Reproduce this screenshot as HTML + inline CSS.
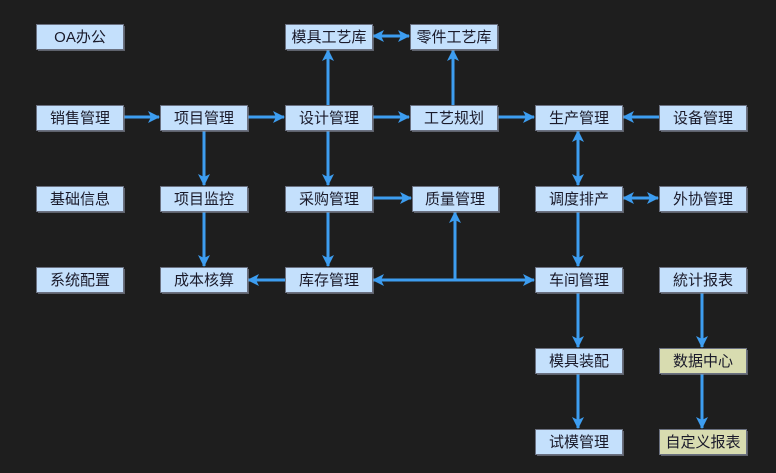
<!DOCTYPE html>
<html><head><meta charset="utf-8"><style>
html,body{margin:0;padding:0;background:#1e1e1e;}
svg{display:block;}
text{font-family:"Liberation Sans","Noto Sans CJK SC",sans-serif;font-size:15px;fill:#1a1a2a;}
</style></head><body>
<svg width="776" height="473" viewBox="0 0 776 473" xmlns="http://www.w3.org/2000/svg">
<defs>
<marker id="a" markerWidth="12" markerHeight="12" refX="11" refY="6" orient="auto" markerUnits="userSpaceOnUse" viewBox="0 0 12 12">
<path d="M0,0 L12,6 L0,12 L3,6 z" fill="#3d9df0"/></marker>
<marker id="s" markerWidth="12" markerHeight="12" refX="1" refY="6" orient="auto" markerUnits="userSpaceOnUse" viewBox="0 0 12 12">
<path d="M12,0 L0,6 L12,12 L9,6 z" fill="#3d9df0"/></marker>
</defs>
<g stroke="#3d9df0" stroke-width="3" fill="none">
<line x1="123" y1="117" x2="159" y2="117" marker-end="url(#a)"/>
<line x1="247" y1="117" x2="284" y2="117" marker-end="url(#a)"/>
<line x1="372" y1="117" x2="409" y2="117" marker-end="url(#a)"/>
<line x1="497" y1="117" x2="534" y2="117" marker-end="url(#a)"/>
<line x1="659" y1="117" x2="623" y2="117" marker-end="url(#a)"/>
<line x1="328" y1="105" x2="328" y2="50" marker-end="url(#a)"/>
<line x1="373" y1="36" x2="409" y2="36" marker-start="url(#s)" marker-end="url(#a)"/>
<line x1="453" y1="105" x2="453" y2="50" marker-end="url(#a)"/>
<line x1="204" y1="130" x2="204" y2="185" marker-end="url(#a)"/>
<line x1="204" y1="211" x2="204" y2="266" marker-end="url(#a)"/>
<line x1="328" y1="130" x2="328" y2="185" marker-end="url(#a)"/>
<line x1="328" y1="211" x2="328" y2="266" marker-end="url(#a)"/>
<line x1="372" y1="198" x2="411" y2="198" marker-end="url(#a)"/>
<line x1="285" y1="280" x2="248" y2="280" marker-end="url(#a)"/>
<line x1="578" y1="131" x2="578" y2="185" marker-start="url(#s)" marker-end="url(#a)"/>
<line x1="623" y1="198" x2="658" y2="198" marker-start="url(#s)" marker-end="url(#a)"/>
<line x1="578" y1="211" x2="578" y2="266" marker-end="url(#a)"/>
<line x1="373" y1="280" x2="534" y2="280" marker-start="url(#s)" marker-end="url(#a)"/>
<line x1="455" y1="280" x2="455" y2="212" marker-end="url(#a)"/>
<line x1="578" y1="292" x2="578" y2="347" marker-end="url(#a)"/>
<line x1="578" y1="373" x2="578" y2="428" marker-end="url(#a)"/>
<line x1="702" y1="292" x2="702" y2="347" marker-end="url(#a)"/>
<line x1="702" y1="373" x2="702" y2="428" marker-end="url(#a)"/>
</g>
<g fill="#8a90a0" opacity="0.6">
<rect x="38" y="26" width="87" height="25"/><rect x="287" y="26" width="87" height="25"/><rect x="412" y="26" width="87" height="25"/>
<rect x="38" y="107" width="87" height="25"/><rect x="162" y="107" width="87" height="25"/><rect x="287" y="107" width="87" height="25"/><rect x="412" y="107" width="87" height="25"/><rect x="537" y="107" width="87" height="25"/><rect x="661" y="107" width="87" height="25"/>
<rect x="38" y="188" width="87" height="25"/><rect x="162" y="188" width="87" height="25"/><rect x="287" y="188" width="87" height="25"/><rect x="414" y="188" width="86" height="25"/><rect x="537" y="188" width="87" height="25"/><rect x="661" y="188" width="87" height="25"/>
<rect x="38" y="269" width="87" height="25"/><rect x="162" y="269" width="87" height="25"/><rect x="287" y="269" width="87" height="25"/><rect x="537" y="269" width="87" height="25"/><rect x="661" y="269" width="87" height="25"/>
<rect x="537" y="350" width="87" height="25"/><rect x="661" y="350" width="87" height="25"/>
<rect x="537" y="431" width="87" height="25"/><rect x="661" y="431" width="87" height="25"/>
</g>
<g stroke="#6a7080" stroke-width="1">
<g fill="#c4e0fc">
<rect x="36.5" y="24.5" width="87" height="25"/>
<rect x="285.5" y="24.5" width="87" height="25"/>
<rect x="410.5" y="24.5" width="87" height="25"/>
<rect x="36.5" y="105.5" width="87" height="25"/>
<rect x="160.5" y="105.5" width="87" height="25"/>
<rect x="285.5" y="105.5" width="87" height="25"/>
<rect x="410.5" y="105.5" width="87" height="25"/>
<rect x="535.5" y="105.5" width="87" height="25"/>
<rect x="659.5" y="105.5" width="87" height="25"/>
<rect x="36.5" y="186.5" width="87" height="25"/>
<rect x="160.5" y="186.5" width="87" height="25"/>
<rect x="285.5" y="186.5" width="87" height="25"/>
<rect x="412.5" y="186.5" width="86" height="25"/>
<rect x="535.5" y="186.5" width="87" height="25"/>
<rect x="659.5" y="186.5" width="87" height="25"/>
<rect x="36.5" y="267.5" width="87" height="25"/>
<rect x="160.5" y="267.5" width="87" height="25"/>
<rect x="285.5" y="267.5" width="87" height="25"/>
<rect x="535.5" y="267.5" width="87" height="25"/>
<rect x="659.5" y="267.5" width="87" height="25"/>
<rect x="535.5" y="348.5" width="87" height="25"/>
<rect x="535.5" y="429.5" width="87" height="25"/>
</g>
<g fill="#d8dcb0">
<rect x="659.5" y="348.5" width="87" height="25"/>
<rect x="659.5" y="429.5" width="87" height="25"/>
</g>
</g>
<g text-anchor="middle">
<text x="80" y="42">OA办公</text>
<text x="329" y="42">模具工艺库</text>
<text x="454" y="42">零件工艺库</text>
<text x="80" y="123">销售管理</text>
<text x="204" y="123">项目管理</text>
<text x="329" y="123">设计管理</text>
<text x="454" y="123">工艺规划</text>
<text x="579" y="123">生产管理</text>
<text x="703" y="123">设备管理</text>
<text x="80" y="204">基础信息</text>
<text x="204" y="204">项目监控</text>
<text x="329" y="204">采购管理</text>
<text x="455" y="204">质量管理</text>
<text x="579" y="204">调度排产</text>
<text x="703" y="204">外协管理</text>
<text x="80" y="285">系统配置</text>
<text x="204" y="285">成本核算</text>
<text x="329" y="285">库存管理</text>
<text x="579" y="285">车间管理</text>
<text x="703" y="285">統计报表</text>
<text x="579" y="366">模具装配</text>
<text x="703" y="366">数据中心</text>
<text x="579" y="447">试模管理</text>
<text x="703" y="447">自定义报表</text>
</g>
</svg>
</body></html>
